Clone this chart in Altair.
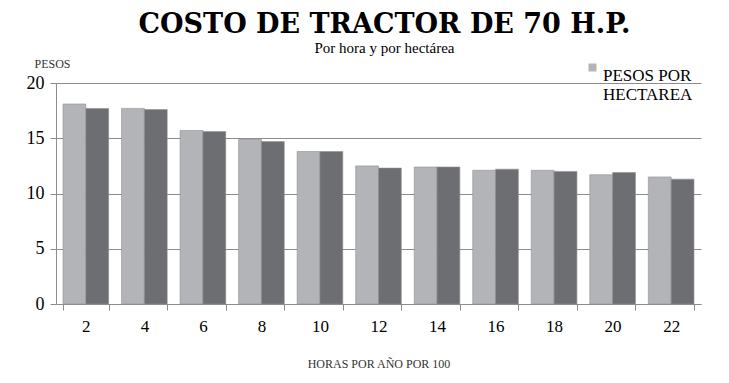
import altair as alt
import pandas as pd

horas = ["2", "4", "6", "8", "10", "12", "14", "16", "18", "20", "22"]
pesos_hectarea = [18.1, 17.7, 15.7, 14.9, 13.8, 12.5, 12.4, 12.1, 12.1, 11.7, 11.5]
pesos_hora = [17.7, 17.6, 15.6, 14.7, 13.8, 12.3, 12.4, 12.2, 12.0, 11.9, 11.3]
series = ["PESOS POR HECTAREA", "PESOS POR HORA"]
y_ticks = [0, 5, 10, 15, 20]

rows = []
for i, h in enumerate(horas):
    rows.append({"horas": h, "serie": series[0], "valor": pesos_hectarea[i]})
    rows.append({"horas": h, "serie": series[1], "valor": pesos_hora[i]})
df = pd.DataFrame(rows)

serif = "Liberation Serif"

chart = alt.Chart(df).mark_bar(stroke="#8f9194", strokeWidth=0.6).encode(
    x=alt.X(
        "horas:N", sort=horas, title="HORAS POR AÑO POR 100",
        scale=alt.Scale(paddingInner=0.22, paddingOuter=0.12),
        axis=alt.Axis(labelAngle=0, tickBand="extent", labelFont=serif, labelFontSize=17,
                      labelColor="#000", titleFont=serif, titleFontSize=12,
                      titleFontWeight="normal", titleColor="#333", titlePadding=24,
                      domainColor="#8c8c8c", tickColor="#8c8c8c", tickSize=6,
                      labelPadding=8),
    ),
    xOffset=alt.XOffset("serie:N", sort=series),
    y=alt.Y(
        "valor:Q", scale=alt.Scale(domain=[0, 20]),
        axis=alt.Axis(values=y_ticks, title="PESOS", titleAngle=0, titleAlign="left",
                      titleX=-22, titleY=-13, titleFont=serif, titleFontSize=12,
                      titleFontWeight="normal", titleColor="#333",
                      labelFont=serif, labelFontSize=18, labelColor="#000",
                      labelPadding=6,
                      domainColor="#8c8c8c", tickColor="#8c8c8c", tickSize=6,
                      gridColor="#8c8c8c", gridWidth=1),
    ),
    color=alt.Color(
        "serie:N",
        scale=alt.Scale(domain=series, range=["#b2b4b7", "#6c6e72"]),
        legend=alt.Legend(values=[series[0]], title=None, orient="none",
                          legendX=528, legendY=-24,
                          labelExpr="datum.label == 'PESOS POR HECTAREA' ? ['PESOS POR', 'HECTAREA'] : datum.label",
                          labelFont=serif, labelFontSize=17, labelColor="#000",
                          symbolType="square", symbolSize=64, symbolStrokeWidth=0,
                          symbolFillColor="#a9abae",
                          labelBaseline="top", labelOffset=2),
    ),
).properties(
    width=713, height=367,
    padding={"left": 18, "top": 3, "right": 20, "bottom": 6},
    autosize=alt.AutoSizeParams(type="fit", contains="padding"),
    title=alt.TitleParams("COSTO DE TRACTOR DE 70 H.P.", subtitle="Por hora y por hectárea",
                          font="DejaVu Serif", fontSize=27, fontWeight="bold", color="#000",
                          subtitleFont=serif, subtitleFontSize=15, subtitleColor="#000",
                          subtitlePadding=2, anchor="middle", frame="group", offset=-4,
                          dy=-4, dx=6),
).configure_view(stroke=None)

chart.save("out.html", embed_options={"renderer": "svg", "actions": False})
